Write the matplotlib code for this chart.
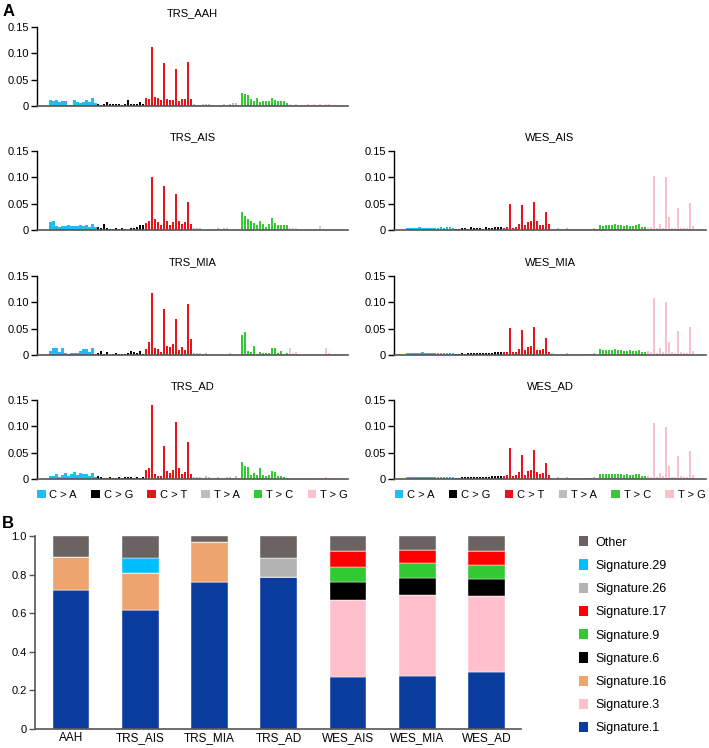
import numpy as np
import matplotlib.pyplot as plt
from matplotlib.patches import Patch

plt.rcParams['font.family'] = ['Liberation Sans', 'DejaVu Sans']

# -----------------------------
# Panel A data: 96 trinucleotide contexts, 6 classes x 16
# -----------------------------
classes = ["C > A", "C > G", "C > T", "T > A", "T > C", "T > G"]
class_colors = ["#1EBFF0", "#000000", "#E8141B", "#BDBDBD", "#36C936", "#F9C1CB"]

trs_aah = [
    0.012, 0.010, 0.011, 0.008, 0.009, 0.009, 0.001, 0.002, 0.012, 0.007, 0.006, 0.007, 0.012, 0.008, 0.015, 0.006,
    0.004, 0.001, 0.003, 0.007, 0.003, 0.004, 0.003, 0.003, 0.001, 0.004, 0.011, 0.004, 0.003, 0.003, 0.007, 0.004,
    0.016, 0.013, 0.112, 0.017, 0.015, 0.011, 0.082, 0.013, 0.012, 0.011, 0.071, 0.009, 0.014, 0.014, 0.083, 0.013,
    0.004, 0.001, 0.002, 0.004, 0.003, 0.003, 0.002, 0.001, 0.002, 0.002, 0.003, 0.002, 0.003, 0.005, 0.006, 0.001,
    0.025, 0.022, 0.020, 0.013, 0.010, 0.016, 0.008, 0.010, 0.010, 0.009, 0.016, 0.012, 0.010, 0.010, 0.009, 0.006,
    0.004, 0.001, 0.004, 0.002, 0.001, 0.001, 0.003, 0.002, 0.003, 0.002, 0.004, 0.001, 0.003, 0.003, 0.002, 0.001,
]
trs_ais = [
    0.016, 0.017, 0.007, 0.006, 0.007, 0.008, 0.010, 0.007, 0.008, 0.007, 0.009, 0.008, 0.009, 0.006, 0.011, 0.006,
    0.006, 0.004, 0.012, 0.003, 0.002, 0.001, 0.004, 0.001, 0.003, 0.001, 0.000, 0.003, 0.004, 0.006, 0.010, 0.009,
    0.014, 0.018, 0.101, 0.020, 0.015, 0.010, 0.084, 0.018, 0.010, 0.015, 0.069, 0.018, 0.011, 0.016, 0.054, 0.011,
    0.003, 0.003, 0.003, 0.000, 0.000, 0.000, 0.002, 0.001, 0.003, 0.001, 0.004, 0.003, 0.000, 0.000, 0.000, 0.000,
    0.034, 0.027, 0.020, 0.017, 0.014, 0.010, 0.018, 0.011, 0.006, 0.011, 0.023, 0.013, 0.010, 0.010, 0.009, 0.009,
    0.003, 0.003, 0.004, 0.002, 0.000, 0.000, 0.000, 0.000, 0.001, 0.001, 0.007, 0.002, 0.000, 0.000, 0.001, 0.000,
]
trs_mia = [
    0.007, 0.013, 0.014, 0.005, 0.013, 0.004, 0.001, 0.004, 0.003, 0.004, 0.007, 0.011, 0.011, 0.006, 0.013, 0.002,
    0.004, 0.007, 0.002, 0.005, 0.000, 0.001, 0.003, 0.001, 0.001, 0.002, 0.004, 0.008, 0.006, 0.003, 0.007, 0.002,
    0.011, 0.024, 0.118, 0.014, 0.012, 0.006, 0.088, 0.017, 0.016, 0.020, 0.069, 0.010, 0.015, 0.010, 0.097, 0.030,
    0.003, 0.004, 0.003, 0.002, 0.003, 0.001, 0.000, 0.000, 0.000, 0.000, 0.000, 0.000, 0.004, 0.002, 0.001, 0.000,
    0.038, 0.043, 0.007, 0.005, 0.017, 0.001, 0.005, 0.004, 0.004, 0.004, 0.013, 0.013, 0.004, 0.007, 0.001, 0.003,
    0.014, 0.003, 0.005, 0.000, 0.000, 0.000, 0.000, 0.000, 0.000, 0.002, 0.002, 0.001, 0.013, 0.003, 0.000, 0.002,
]
trs_ad = [
    0.006, 0.006, 0.010, 0.004, 0.007, 0.012, 0.005, 0.010, 0.014, 0.008, 0.012, 0.010, 0.009, 0.006, 0.012, 0.004,
    0.005, 0.004, 0.002, 0.002, 0.003, 0.001, 0.001, 0.003, 0.002, 0.003, 0.004, 0.003, 0.002, 0.004, 0.002, 0.003,
    0.018, 0.020, 0.141, 0.010, 0.006, 0.005, 0.063, 0.015, 0.012, 0.017, 0.108, 0.020, 0.010, 0.013, 0.070, 0.010,
    0.003, 0.004, 0.003, 0.002, 0.005, 0.003, 0.002, 0.002, 0.003, 0.001, 0.001, 0.003, 0.004, 0.002, 0.005, 0.001,
    0.032, 0.025, 0.022, 0.008, 0.012, 0.008, 0.020, 0.008, 0.006, 0.008, 0.015, 0.014, 0.005, 0.006, 0.004, 0.002,
    0.002, 0.001, 0.002, 0.001, 0.002, 0.001, 0.001, 0.001, 0.001, 0.001, 0.002, 0.001, 0.004, 0.001, 0.001, 0.001,
]
wes_ais = [
    0.004, 0.003, 0.004, 0.004, 0.005, 0.004, 0.004, 0.004, 0.004, 0.004, 0.004, 0.005, 0.004, 0.005, 0.005, 0.004,
    0.002, 0.002, 0.003, 0.003, 0.002, 0.005, 0.004, 0.003, 0.004, 0.002, 0.005, 0.004, 0.003, 0.006, 0.005, 0.005,
    0.004, 0.006, 0.049, 0.004, 0.006, 0.012, 0.048, 0.009, 0.015, 0.018, 0.053, 0.017, 0.010, 0.010, 0.035, 0.012,
    0.002, 0.002, 0.003, 0.001, 0.002, 0.003, 0.002, 0.001, 0.002, 0.001, 0.001, 0.001, 0.002, 0.001, 0.003, 0.001,
    0.010, 0.008, 0.009, 0.009, 0.010, 0.011, 0.009, 0.010, 0.008, 0.009, 0.008, 0.007, 0.010, 0.011, 0.006, 0.005,
    0.004, 0.006, 0.103, 0.003, 0.012, 0.004, 0.100, 0.025, 0.004, 0.003, 0.041, 0.004, 0.003, 0.003, 0.051, 0.008,
]
wes_mia = [
    0.004, 0.003, 0.004, 0.004, 0.004, 0.005, 0.004, 0.004, 0.004, 0.003, 0.004, 0.004, 0.004, 0.003, 0.004, 0.004,
    0.002, 0.002, 0.003, 0.002, 0.003, 0.004, 0.003, 0.004, 0.003, 0.004, 0.003, 0.004, 0.004, 0.006, 0.005, 0.006,
    0.005, 0.006, 0.051, 0.005, 0.006, 0.012, 0.047, 0.010, 0.015, 0.018, 0.053, 0.010, 0.009, 0.012, 0.032, 0.006,
    0.003, 0.002, 0.002, 0.001, 0.002, 0.003, 0.002, 0.002, 0.001, 0.002, 0.002, 0.001, 0.002, 0.001, 0.003, 0.001,
    0.011, 0.009, 0.010, 0.010, 0.010, 0.011, 0.009, 0.010, 0.008, 0.008, 0.009, 0.007, 0.008, 0.010, 0.005, 0.005,
    0.007, 0.005, 0.108, 0.004, 0.013, 0.005, 0.100, 0.024, 0.005, 0.003, 0.045, 0.006, 0.003, 0.004, 0.053, 0.007,
]
wes_ad = [
    0.004, 0.003, 0.004, 0.004, 0.004, 0.004, 0.004, 0.004, 0.004, 0.004, 0.004, 0.004, 0.004, 0.004, 0.004, 0.004,
    0.002, 0.002, 0.003, 0.003, 0.003, 0.004, 0.003, 0.003, 0.004, 0.004, 0.004, 0.003, 0.005, 0.005, 0.005, 0.006,
    0.006, 0.008, 0.058, 0.006, 0.008, 0.014, 0.046, 0.008, 0.015, 0.017, 0.056, 0.014, 0.009, 0.011, 0.030, 0.008,
    0.002, 0.002, 0.003, 0.002, 0.002, 0.003, 0.002, 0.001, 0.002, 0.002, 0.002, 0.001, 0.002, 0.002, 0.003, 0.001,
    0.010, 0.009, 0.009, 0.009, 0.010, 0.009, 0.010, 0.009, 0.008, 0.009, 0.008, 0.007, 0.009, 0.010, 0.005, 0.005,
    0.006, 0.004, 0.107, 0.004, 0.012, 0.005, 0.099, 0.025, 0.004, 0.003, 0.044, 0.006, 0.003, 0.004, 0.053, 0.008,
]

# -----------------------------
# Panel B data: signature proportions
# -----------------------------
groups = ["AAH", "TRS_AIS", "TRS_MIA", "TRS_AD", "WES_AIS", "WES_MIA", "WES_AD"]
sig_names = ["Signature.1", "Signature.3", "Signature.16", "Signature.6", "Signature.9",
             "Signature.17", "Signature.26", "Signature.29", "Other"]
sig_colors = ["#0A3C9E", "#FFC0CB", "#EDA46E", "#000000", "#33C933",
              "#FF0000", "#B3B3B3", "#00BFFF", "#6B6262"]
sig1 = [0.72, 0.615, 0.76, 0.79, 0.27, 0.275, 0.295]
sig3 = [0.0, 0.0, 0.0, 0.0, 0.40, 0.42, 0.395]
sig16 = [0.17, 0.195, 0.21, 0.0, 0.0, 0.0, 0.0]
sig6 = [0.0, 0.0, 0.0, 0.0, 0.09, 0.085, 0.085]
sig9 = [0.0, 0.0, 0.0, 0.0, 0.08, 0.08, 0.075]
sig17 = [0.0, 0.0, 0.0, 0.0, 0.08, 0.065, 0.07]
sig26 = [0.0, 0.0, 0.0, 0.095, 0.0, 0.0, 0.0]
sig29 = [0.0, 0.075, 0.0, 0.0, 0.0, 0.0, 0.0]
other = [0.11, 0.115, 0.03, 0.115, 0.08, 0.075, 0.08]

# -----------------------------
# Figure
# -----------------------------
W, H = 709, 748
fig = plt.figure(figsize=(W / 100, H / 100), dpi=100)


def px_axes(x0, x1, ytop, ybot):
    return fig.add_axes([x0 / W, 1 - ybot / H, (x1 - x0) / W, (ybot - ytop) / H])


bar_colors = [c for c in class_colors for _ in range(16)]
xpos = np.arange(96)


def spectrum(ax, vals, title):
    ax.bar(xpos, vals, width=0.72, color=bar_colors, linewidth=0)
    ax.set_xlim(-4.5, 99.3)
    ax.set_ylim(0, 0.15)
    ax.set_yticks([0, 0.05, 0.10, 0.15])
    ax.set_yticklabels(["0", "0.05", "0.10", "0.15"], fontsize=8)
    ax.set_xticks([])
    ax.spines["top"].set_visible(False)
    ax.spines["right"].set_visible(False)
    ax.spines["left"].set_linewidth(1.0)
    ax.spines["bottom"].set_color("#555555")
    ax.spines["bottom"].set_linewidth(1.2)
    ax.tick_params(axis="y", length=4, width=1, pad=2)
    ax.set_title(title, fontsize=8, pad=8)


rows = [(27, 106), (151, 230), (276, 355), (400, 479)]
left_panels = [(trs_aah, "TRS_AAH"), (trs_ais, "TRS_AIS"), (trs_mia, "TRS_MIA"), (trs_ad, "TRS_AD")]
right_panels = [None, (wes_ais, "WES_AIS"), (wes_mia, "WES_MIA"), (wes_ad, "WES_AD")]

bottom_axes = []
for (yt, yb), lp, rp in zip(rows, left_panels, right_panels):
    ax = px_axes(37, 348, yt, yb)
    spectrum(ax, lp[0], lp[1])
    if yb == 479:
        bottom_axes.append(ax)
    if rp is not None:
        ax = px_axes(394, 706, yt, yb)
        spectrum(ax, rp[0], rp[1])
        if yb == 479:
            bottom_axes.append(ax)

handles_a = [Patch(facecolor=c, edgecolor="none", label=l) for c, l in zip(class_colors, classes)]
for ax in bottom_axes:
    ax.legend(handles=handles_a, loc="center", bbox_to_anchor=(0.5, -0.2), ncol=6,
              frameon=False, fontsize=8, handlelength=0.75, handleheight=0.8,
              handletextpad=0.35, columnspacing=1.3, borderaxespad=0, borderpad=0)

# Panel B
axb = px_axes(35, 521, 536, 729)
xb = np.arange(len(groups))
stack = [sig1, sig3, sig16, sig6, sig9, sig17, sig26, sig29, other]
bottom = np.zeros(len(groups))
for vals, name, col in zip(stack, sig_names, sig_colors):
    vals = np.array(vals)
    axb.bar(xb, vals, bottom=bottom, width=0.53, color=col, label=name,
            edgecolor="white", linewidth=0.3)
    bottom += vals
axb.set_xlim(-0.52, 6.5)
axb.set_ylim(0, 1.0)
axb.set_yticks([0, 0.2, 0.4, 0.6, 0.8, 1.0])
axb.set_yticklabels(["0", "0.2", "0.4", "0.6", "0.8", "1.0"], fontsize=8)
axb.set_xticks(xb)
axb.set_xticklabels(groups, fontsize=8.5)
axb.tick_params(axis="x", length=0, pad=2)
axb.tick_params(axis="y", length=4, width=1, pad=2, color="#555555")
for s in ["top", "right"]:
    axb.spines[s].set_visible(False)
for s in ["left", "bottom"]:
    axb.spines[s].set_color("#555555")
    axb.spines[s].set_linewidth(1.2)

handles_b = [Patch(facecolor=c, edgecolor="none", label=l) for c, l in zip(sig_colors, sig_names)][::-1]
fig.legend(handles=handles_b, loc="upper left", bbox_to_anchor=(579 / W, 1 - 536 / H),
           frameon=False, fontsize=9, handlelength=0.75, handleheight=0.9,
           handletextpad=0.55, labelspacing=0.86, borderaxespad=0, borderpad=0)

fig.text(3 / W, 1 - 11 / H, "A", fontsize=12, fontweight="bold", va="center", ha="left")
fig.text(2 / W, 1 - 524 / H, "B", fontsize=12, fontweight="bold", va="center", ha="left")

fig.savefig("out.png", dpi=100)
